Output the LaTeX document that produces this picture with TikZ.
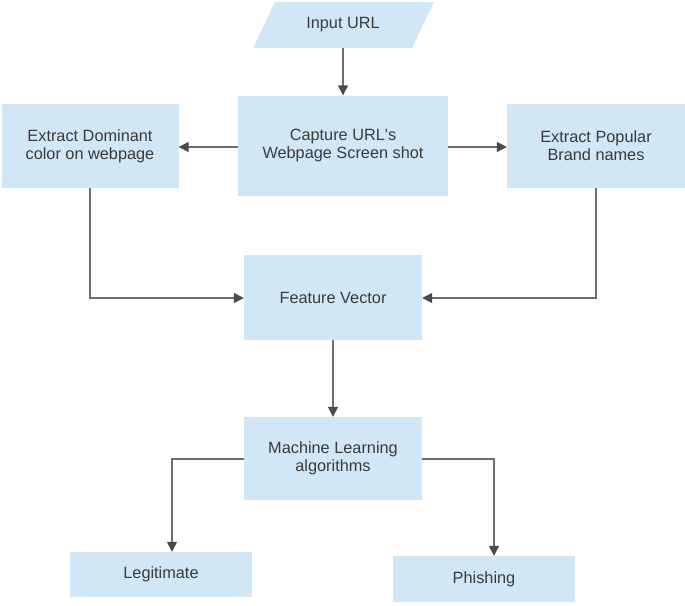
\documentclass[tikz,border=0pt]{standalone}
\usepackage{fontspec}
\newfontfamily\arialfont{Liberation Sans}
\usetikzlibrary{arrows.meta}
\definecolor{boxfill}{HTML}{D2E7F5}
\definecolor{txt}{HTML}{3A3A3A}
\definecolor{linec}{HTML}{6E6E6E}
\definecolor{headc}{HTML}{4A4A4A}
\tikzset{
  box/.style={fill=boxfill, draw=none, text=txt, align=center, inner sep=0pt,
    font=\arialfont\fontsize{16.3}{18}\selectfont},
  conn/.style={draw=linec, line width=1.4pt, -{Triangle[length=10pt,width=10pt,fill=headc,color=headc]}}
}
\begin{document}
\begin{tikzpicture}[x=1pt,y=-1pt]
\useasboundingbox (0,0) rectangle (685,605);
% parallelogram
\fill[boxfill] (275,2) -- (434,2) -- (412,48) -- (253,48) -- cycle;
\node[box, fill=none, minimum width=160pt, minimum height=46pt] (input) at (343,25) {Input URL};
\node[box, minimum width=210pt, minimum height=100pt] (capture) at (343,145.5) {Capture URL's\\Webpage Screen shot};
\node[box, minimum width=177pt, minimum height=84pt] (dominant) at (90,146) {Extract Dominant\\color on webpage};
\node[box, minimum width=178pt, minimum height=84pt] (brand) at (596,146) {Extract Popular\\Brand names};
\node[box, minimum width=178pt, minimum height=85pt] (feature) at (333,297.5) {Feature Vector};
\node[box, minimum width=178pt, minimum height=83pt] (ml) at (333,458.5) {Machine Learning\\algorithms};
\node[box, minimum width=182pt, minimum height=45pt] (legit) at (161,574.5) {Legitimate};
\node[box, minimum width=182pt, minimum height=46pt] (phish) at (484,579) {Phishing};
% connectors
\draw[conn] (input.south) -- (capture.north);
\draw[conn] (capture.west |- 0,147) -- (dominant.east |- 0,147);
\draw[conn] (capture.east |- 0,147) -- (brand.west |- 0,147);
\draw[conn] (dominant.south) |- (feature.west |- 0,298);
\draw[conn] (brand.south) |- (feature.east |- 0,298);
\draw[conn] (feature.south) -- (ml.north);
\draw[conn] (ml.west |- 0,459) -| (legit.north -| 172,0);
\draw[conn] (ml.east |- 0,459) -| (phish.north -| 494,0);
\end{tikzpicture}
\end{document}
